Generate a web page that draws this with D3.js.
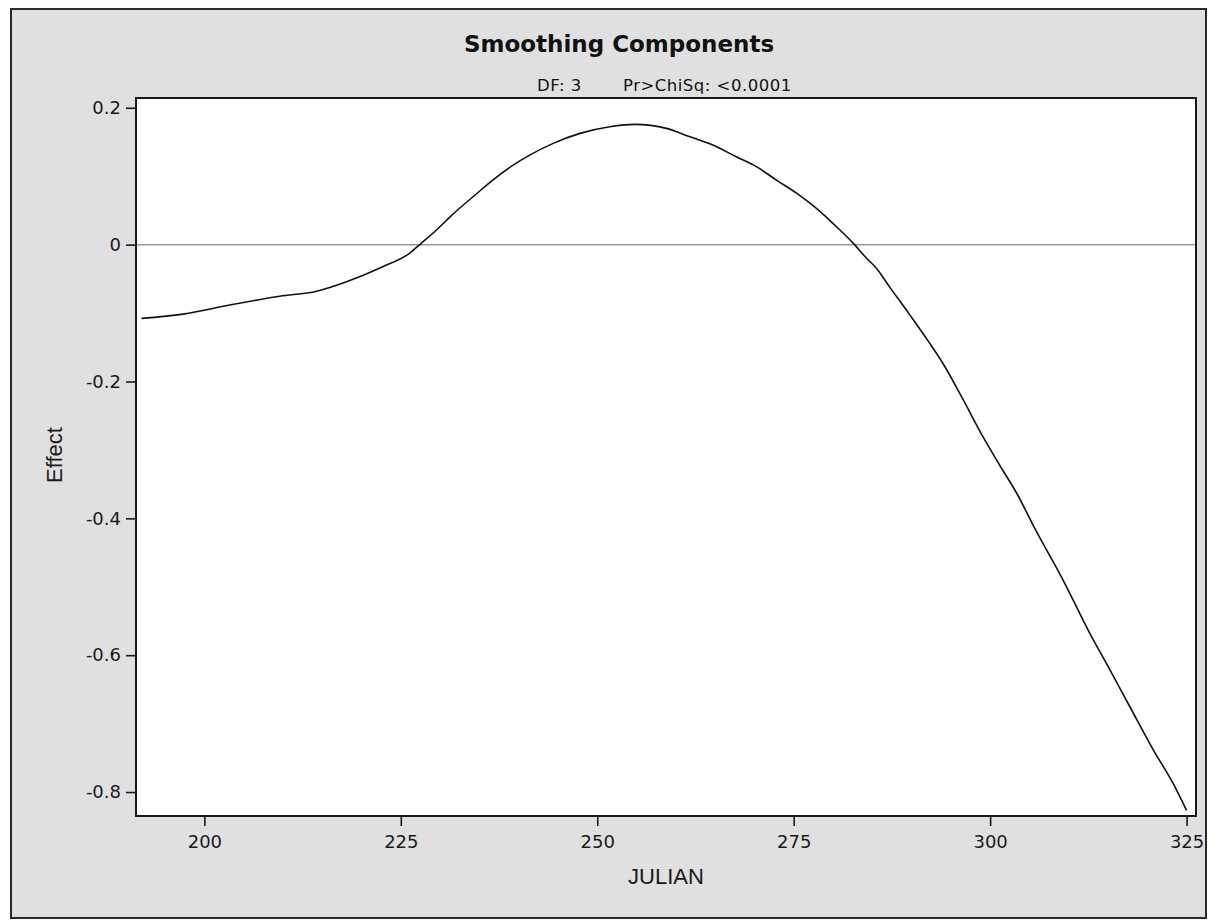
<!DOCTYPE html>
<html>
<head>
<meta charset="utf-8">
<script src="https://cdn.jsdelivr.net/npm/d3@7"></script>
<style>
  html, body { margin: 0; padding: 0; background: #ffffff; }
  svg { display: block; }
</style>
</head>
<body>
<script>
// Smoothing component of JULIAN (day of year) against its effect
const julian = [192.0, 197.3, 203.2, 209.6, 214.3, 218.1, 222.7, 226.1, 227.6, 229.5,
                231.4, 234.6, 236.7, 239.3, 241.4, 244.4, 247.8, 251.6, 254.8, 258.8,
                261.8, 264.7, 267.7, 270.3, 272.8, 275.4, 277.9, 280.0, 282.6, 284.3,
                285.5, 287.2, 289.8, 292.3, 294.0, 296.6, 299.1, 301.2, 303.4, 305.7,
                309.3, 312.7, 314.8, 317.8, 320.8, 323.3, 325.0];
const effect = [-0.1077, -0.1015, -0.0883, -0.0754, -0.0680, -0.0542, -0.0323, -0.0127, 0.0020, 0.0210,
                0.0420, 0.0740, 0.0943, 0.1162, 0.1308, 0.1480, 0.1626, 0.1722, 0.1757, 0.1699,
                0.1576, 0.1455, 0.1284, 0.1137, 0.0943, 0.0749, 0.0529, 0.0310, 0.0018, -0.0202,
                -0.0340, -0.0617, -0.1030, -0.1440, -0.1737, -0.2273, -0.2810, -0.3220, -0.3637, -0.4149,
                -0.4905, -0.5684, -0.6120, -0.6757, -0.7390, -0.7877, -0.8268];
const xTicks = [200, 225, 250, 275, 300, 325];
const yTicks = [-0.8, -0.6, -0.4, -0.2, 0, 0.2];
const yTickLabels = ["-0.8", "-0.6", "-0.4", "-0.2", "0", "0.2"];

const W = 1216, H = 920;
const plot = { left: 136, top: 98, right: 1196, bottom: 816 };

const svg = d3.select("body").append("svg")
  .attr("width", W).attr("height", H);

// outer grey panel
svg.append("rect")
  .attr("x", 11).attr("y", 9)
  .attr("width", 1195).attr("height", 909)
  .attr("fill", "#e0e0e0")
  .attr("stroke", "#2a2a2a").attr("stroke-width", 2);

// white plotting area
svg.append("rect")
  .attr("x", plot.left).attr("y", plot.top)
  .attr("width", plot.right - plot.left).attr("height", plot.bottom - plot.top)
  .attr("fill", "#ffffff");

const x = d3.scaleLinear().domain([191.3, 326.2]).range([plot.left, plot.right]);
const y = d3.scaleLinear().domain([-0.835, 0.2143]).range([plot.bottom, plot.top]);

// zero reference line
svg.append("line")
  .attr("x1", plot.left).attr("x2", plot.right)
  .attr("y1", y(0)).attr("y2", y(0))
  .attr("stroke", "#9a9a9a").attr("stroke-width", 1.5);

// effect curve
const pts = julian.map((j, i) => [j, effect[i]]);
svg.append("path")
  .datum(pts)
  .attr("fill", "none")
  .attr("stroke", "#111111")
  .attr("stroke-width", 1.6)
  .attr("d", d3.line().x(d => x(d[0])).y(d => y(d[1])).curve(d3.curveMonotoneX));

// frame of plotting area
svg.append("rect")
  .attr("x", plot.left).attr("y", plot.top)
  .attr("width", plot.right - plot.left).attr("height", plot.bottom - plot.top)
  .attr("fill", "none")
  .attr("stroke", "#1a1a1a").attr("stroke-width", 2);

// axes
const xAxis = d3.axisBottom(x).tickValues(xTicks).tickFormat(d3.format("d"))
  .tickSize(10).tickSizeOuter(0).tickPadding(9);
const yAxis = d3.axisLeft(y).tickValues(yTicks)
  .tickFormat((d, i) => yTickLabels[i])
  .tickSize(10).tickSizeOuter(0).tickPadding(5);

const gx = svg.append("g").attr("transform", `translate(0,${plot.bottom})`).call(xAxis);
const gy = svg.append("g").attr("transform", `translate(${plot.left},0)`).call(yAxis);
[gx, gy].forEach(g => {
  g.select(".domain").remove();
  g.selectAll(".tick line").attr("stroke", "#1a1a1a").attr("stroke-width", 1.6);
  g.selectAll(".tick text")
    .attr("fill", "#1a1a1a")
    .style("font-family", "'DejaVu Sans', sans-serif")
    .style("font-size", "18px");
});

// titles
svg.append("text")
  .attr("x", 619).attr("y", 52)
  .attr("text-anchor", "middle")
  .style("font-family", "'DejaVu Sans', sans-serif")
  .style("font-weight", "bold")
  .style("font-size", "23px")
  .attr("fill", "#111")
  .text("Smoothing Components");

svg.append("text")
  .attr("x", 537).attr("y", 91)
  .style("font-family", "'DejaVu Sans', sans-serif")
  .style("font-size", "16.5px")
  .style("letter-spacing", "0.5px")
  .attr("fill", "#111")
  .text("DF: 3");

svg.append("text")
  .attr("x", 623).attr("y", 91)
  .style("font-family", "'DejaVu Sans', sans-serif")
  .style("font-size", "16.5px")
  .style("letter-spacing", "0.5px")
  .attr("fill", "#111")
  .text("Pr>ChiSq: <0.0001");

// axis labels
svg.append("text")
  .attr("x", (plot.left + plot.right) / 2).attr("y", 884)
  .attr("text-anchor", "middle")
  .style("font-family", "'Liberation Sans', Arial, sans-serif")
  .style("font-size", "22px")
  .attr("fill", "#1a1a1a")
  .text("JULIAN");

svg.append("text")
  .attr("transform", `translate(62,${(plot.top + plot.bottom) / 2 - 2}) rotate(-90)`)
  .attr("text-anchor", "middle")
  .style("font-family", "'Liberation Sans', Arial, sans-serif")
  .style("font-size", "22px")
  .attr("fill", "#1a1a1a")
  .text("Effect");
</script>
</body>
</html>
